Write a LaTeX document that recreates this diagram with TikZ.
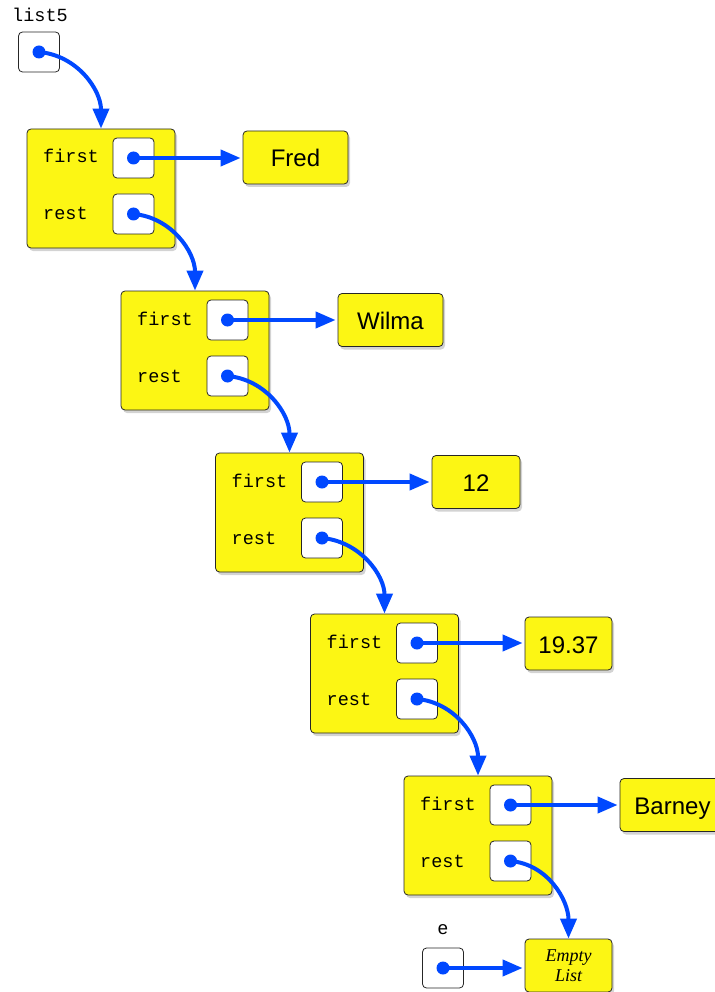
\documentclass[tikz,border=0pt]{standalone}
\usepackage{fontspec}
\newfontfamily\monofont{Liberation Mono}
\newfontfamily\sansfont{Liberation Sans}
\newfontfamily\seriffont{Liberation Serif}
\usepackage{xcolor}
\definecolor{cellyellow}{RGB}{252,246,20}
\definecolor{ptrblue}{RGB}{0,72,255}
\usetikzlibrary{arrows.meta,shadows}
\tikzset{
    cellbox/.style = {draw=black!85, fill=cellyellow, rounded corners=4pt, line width=0.8pt,
        drop shadow={shadow xshift=2pt, shadow yshift=-3pt, opacity=0.35}},
    ptrbox/.style = {draw=black!85, fill=white, rounded corners=4pt, line width=0.8pt,
        minimum width=41pt, minimum height=40pt, inner sep=0pt},
    valbox/.style = {cellbox, minimum height=53pt, inner sep=0pt,
        font=\sansfont\fontsize{24}{24}\selectfont},
    valtext/.style = {text height=19pt, text depth=0pt},
    fieldtext/.style = {inner sep=0pt, font=\monofont\fontsize{18.5}{18.5}\selectfont},
    ptr/.style = {draw=ptrblue, line width=4pt, -{Triangle[length=20pt,width=16pt]}},
    cons/.pic = {
    \node[cellbox, minimum width=148pt, minimum height=119pt] (-box) at (0,0) {};
    \node[ptrbox] (-first) at (32.5,30.5) {};
    \node[ptrbox] (-rest) at (32.5,-25.5) {};
    \node[fieldtext, anchor=base west] (-flabel) at (-58,25.5) {first};
    \node[fieldtext, anchor=base west] (-rlabel) at (-58,-31.5) {rest};
    \fill[ptrblue] (32.5,30.5) circle (6.5pt);
    \fill[ptrblue] (32.5,-25.5) circle (6.5pt);
    }
}
\begin{document}
\begin{tikzpicture}[line cap=round,line join=round,x=1pt,y=1pt]
    \useasboundingbox (0,0) rectangle (714,-992);

    % the variable list5
    \node[fieldtext] (list5lbl) at (40,-15) {list5};
    \node[ptrbox] (list5) at (39,-52) {};
    \fill[ptrblue] (list5.center) circle (6.5pt);

    % the cons cells
    \pic (c1) at (101,-188.5) {cons};
    \pic (c2) at (195,-350.5) {cons};
    \pic (c3) at (289.5,-512.5) {cons};
    \pic (c4) at (384.5,-673.5) {cons};
    \pic (c5) at (478,-835.5) {cons};

    % the values
    \node[valbox, valtext, minimum width=105pt] (fred) at (295.5,-157.5) {Fred};
    \node[valbox, valtext, minimum width=105pt] (wilma) at (390.5,-320) {Wilma};
    \node[valbox, valtext, minimum width=88pt] (twelve) at (476,-482) {12};
    \node[valbox, valtext, minimum width=87pt] (real) at (568.5,-643.5) {19.37};
    \node[valbox, valtext, minimum width=105pt] (barney) at (672.5,-805) {Barney};
    \node[valbox, minimum width=87pt, align=center,
        font=\seriffont\itshape\fontsize{18}{20}\selectfont] (empty) at (568.5,-965.5) {Empty\\List};

    % the variable e
    \node[fieldtext] (elbl) at (443,-930) {e};
    \node[ptrbox] (ebox) at (443,-968) {};
    \fill[ptrblue] (ebox.center) circle (6.5pt);

    % first pointers
    \draw[ptr, shorten >=2pt] (c1-first.center) -- (c1-first.center -| fred.west);
    \draw[ptr, shorten >=2pt] (c2-first.center) -- (c2-first.center -| wilma.west);
    \draw[ptr, shorten >=2pt] (c3-first.center) -- (c3-first.center -| twelve.west);
    \draw[ptr, shorten >=2pt] (c4-first.center) -- (c4-first.center -| real.west);
    \draw[ptr, shorten >=2pt] (c5-first.center) -- (c5-first.center -| barney.west);
    \draw[ptr, shorten >=2pt] (ebox.center) -- (ebox.center -| empty.west);

    % rest pointers
    \draw[ptr] (list5.center) to[out=-5,in=90] (c1-box.north);
    \draw[ptr] (c1-rest.center) to[out=-5,in=90] (c2-box.north);
    \draw[ptr] (c2-rest.center) to[out=-5,in=90] (c3-box.north);
    \draw[ptr] (c3-rest.center) to[out=-5,in=90] (c4-box.north);
    \draw[ptr] (c4-rest.center) to[out=-5,in=90] (c5-box.north);
    \draw[ptr] (c5-rest.center) to[out=-5,in=90] (empty.north);
\end{tikzpicture}
\end{document}
